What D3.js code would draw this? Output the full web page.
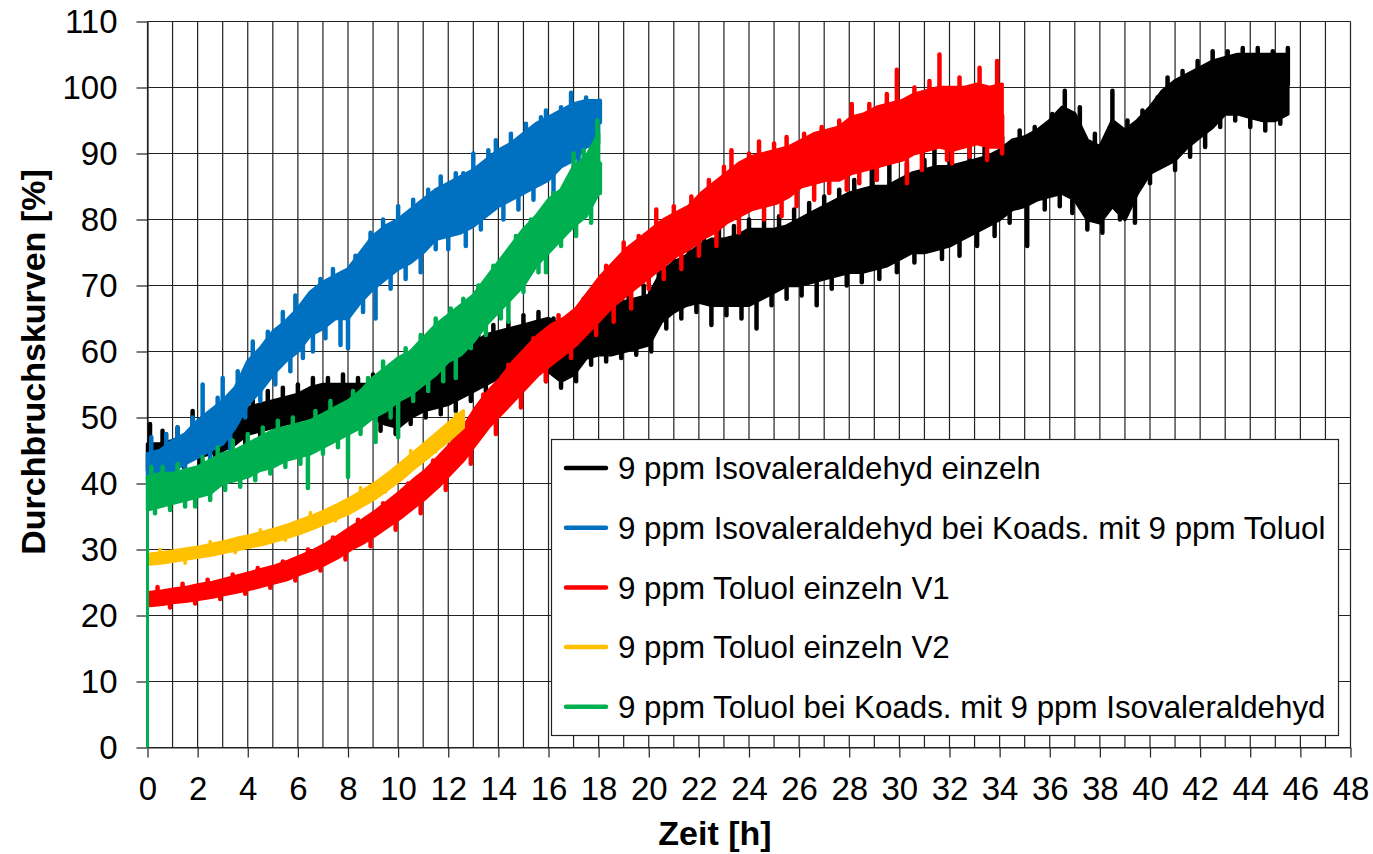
<!DOCTYPE html>
<html><head><meta charset="utf-8">
<script src="https://cdn.jsdelivr.net/npm/d3@7/dist/d3.min.js"></script>
<style>
body{margin:0;background:#fff}
text{font-family:"Liberation Sans",Arial,sans-serif;fill:#000}
</style>
</head><body>
<svg id="chart" width="1373" height="854"></svg>
<script>
// ---------- data ----------
const xTicks = [0,2,4,6,8,10,12,14,16,18,20,22,24,26,28,30,32,34,36,38,40,42,44,46,48];
const yTicks = [0,10,20,30,40,50,60,70,80,90,100,110];
const xLabel = "Zeit [h]";
const yLabel = "Durchbruchskurven [%]";
const seriesNames = [
  "9 ppm Isovaleraldehyd einzeln",
  "9 ppm Isovaleraldehyd bei Koads. mit 9 ppm Toluol",
  "9 ppm Toluol einzeln V1",
  "9 ppm Toluol einzeln V2",
  "9 ppm Toluol bei Koads. mit 9 ppm Isovaleraldehyd"
];
const seriesColors = ["#000000","#0070C0","#FF0000","#FFC000","#00B050"];

// lower / upper edge of each noisy trace [%], sampled every 0.5 h from the start time
const stepH = 0.5;
const blackStart = 0;
const blackLo = [42,42.5,43,43.5,44,44.5,45,46,47.5,48,48.5,49,49.5,50,50.5,50.5,51,50.5,50,49,48.5,50,51,51.5,52,53,54,55,56,56.5,57,57.5,57,55.5,56.5,59,59.5,59.5,60,60.5,61,64.5,66,67,67.5,67,67,67,67,68,69,70,70,70.5,71,71.5,72,72,72.5,73,74,75,75,75.5,76,77,78,79,80,81.5,82,83,83.5,84,83,80,79.5,82,80,84,87,88,89,91,92.5,94,96,96,95.5,95,95,96];
const blackHi = [46,46,46.5,47,47.5,48.5,49.5,50.5,51.5,52,52.5,53,53.5,54.5,55,55,55,55,55,55.5,56,56.5,57,57.5,58.5,59.5,61,62.5,63,63.5,64,64.5,65,64,64.5,66,66,66.5,67.5,68,68.5,72,73.5,74.5,76,77,77,77.5,78.5,78.5,78.5,79,80,81,82,83,84,84.5,85,85,86,87,87.5,88,88,88.5,89,89.5,90.5,92,92.5,93.5,95,97,96,92,91,95,93.5,95,97,99.5,101,102,103,104,104.5,105,105,105,105,105];
// noise excursions [time h, tip %]
const blackSpikes = [[0.1,49],[0.35,41.5],[0.6,48],[0.9,41.8],[1.2,48.5],[1.45,42.5],[1.8,51],[2.1,43],[2.4,50],[2.7,43.5],[3.0,51.5],[3.3,44.5],[3.6,52.5],[3.9,46],[4.2,53],[4.5,46.5],[4.8,54],[5.1,47.5],[5.4,54.5],[5.7,48],[6.0,55],[6.3,48.5],[6.6,56],[6.9,49.5],[7.2,56],[7.5,49.5],[7.8,56.5],[8.1,50],[8.4,56],[8.7,49.5],[9.0,56.5],[9.3,48],[9.6,57],[9.9,47.5],[10.2,57.5],[10.5,49],[10.8,58],[11.1,50],[11.4,59],[11.7,50.5],[12.0,60],[12.3,51],[12.6,61],[12.9,52.5],[13.2,62.5],[13.5,54],[13.8,64],[14.1,55],[14.4,64.5],[14.7,55.5],[15.0,65.5],[15.3,56],[15.6,66],[15.9,55.5],[16.2,65],[16.5,54.5],[16.8,64.5],[17.1,55.5],[17.4,67],[17.7,58],[18.0,67],[18.3,58.5],[18.6,68],[18.9,59],[19.2,69],[19.5,59.5],[19.8,70],[20.1,60],[20.4,73],[20.7,63.5],[21.0,75],[21.3,65],[21.6,76],[21.9,66],[22.2,78],[22.5,64],[22.8,78.5],[23.1,65.5],[23.4,79],[23.7,65],[24.0,80],[24.3,63.5],[24.6,80],[24.9,67],[25.2,80.5],[25.5,68],[25.8,81.5],[26.1,68.5],[26.4,82.5],[26.7,67],[27.0,83.5],[27.3,69.5],[27.6,84.5],[27.9,70],[28.2,86],[28.5,70.5],[28.9,89],[29.2,71],[29.6,89],[29.9,72],[30.3,88.5],[30.6,73.5],[31.0,89],[31.4,90.5],[31.7,74],[32.0,90],[32.4,74.5],[32.8,91],[33.1,76],[33.4,91],[33.8,77.5],[34.1,92.5],[34.4,79.5],[34.8,93.5],[35.1,76],[35.4,94],[35.8,81.5],[36.1,96],[36.4,82],[36.6,99.5],[36.9,81],[37.2,97],[37.5,78.5],[37.8,93],[38.1,78],[38.5,99.5],[38.8,80],[39.1,95],[39.4,79.5],[39.7,96.5],[40.0,85.5],[40.3,98.5],[40.7,101.5],[41.0,87.5],[41.3,102.5],[41.6,89.5],[41.9,104],[42.2,91],[42.5,105.5],[42.8,94],[43.1,105.5],[43.4,95],[43.7,106],[44.0,94],[44.3,106],[44.6,93.5],[44.9,105.5],[45.2,94.5],[45.5,106]];

const blueStart = 0;
const blueLo = [40.5,41,42,43,44,45,46,48.5,52,54,56.5,58.5,60,62.5,63.5,65,65,67.5,69.5,71,72.5,73.5,75,77,77.5,78,79,80.5,82,83,84,85,86,88,89,91,91.5];
const blueHi = [44.5,45,46.5,47.5,49.5,51,52.5,54.5,58.5,60.5,63,64.5,66.5,69,70.5,71.5,72.5,75,77.5,79,80,81.5,83,84.5,85.5,86.5,87.5,89,90.5,91.5,93,94.5,95.5,96.5,97.5,98,98];
const blueSpikes = [[0.15,47],[0.45,39.5],[0.75,47.5],[1.05,40.5],[1.2,48.5],[1.5,41.5],[1.8,50],[2.2,55],[2.5,43.5],[2.8,53],[3.0,56],[3.3,45],[3.6,57],[3.9,50],[4.2,61.5],[4.5,52.5],[4.8,63],[5.1,55],[5.4,66],[5.7,57],[5.9,68.5],[6.2,59],[6.6,60],[6.9,71],[7.1,62],[7.4,72.5],[7.7,61],[8.0,60.5],[8.3,74.5],[8.6,66],[8.9,78],[9.1,65],[9.4,80],[9.7,69.5],[10.0,82],[10.3,71],[10.6,83],[10.9,72],[11.2,84.5],[11.5,75.5],[11.7,86.5],[12.0,75.5],[12.3,87],[12.6,87],[12.7,76],[13.0,90],[13.3,78.5],[13.6,90.5],[13.9,92],[14.2,80],[14.5,93],[14.8,81.5],[15.1,94.5],[15.4,83],[15.7,95.5],[15.9,96.5],[16.2,82],[16.5,97],[16.9,99.2],[17.2,87],[17.5,98.5],[17.8,89.5],[18.05,98]];

const redStart = 0.1;
const redLo = [21.5,21.7,22,22.2,22.5,22.8,23.2,23.6,24,24.5,25,25.5,26.3,27,27.8,28.8,30,31,32.2,33.5,34.8,36.3,37.8,39.5,41.5,43.5,46,48.5,50.5,52.5,54.5,56.5,58,59.5,61,63,65,67,68.5,70,71.5,73,74.5,75.5,77,78,79.5,80.5,81.5,82,82.5,83.5,85,85.5,86,86,87,87.5,88,88.5,89,90,90.5,91,90.5,91,91.5,91,91];
const redHi = [23.5,23.7,24,24.3,24.7,25,25.5,26,26.5,27,27.5,28.2,29,29.8,30.8,32,33.3,34.5,35.8,37.3,38.8,40.5,42,44,46,48.5,51.5,54,56,58.5,60.5,62.5,64,65,66.5,69,71.5,73.5,75.5,77,78.5,80,81,82,84,85.5,87,88.5,89.5,90,90.5,91,92,93,93.5,94,95.5,96,97,97.5,98,99,99.5,100,100,100,100.5,100,100.5];
const redSpikes = [[0.4,24.3],[0.9,21.2],[1.4,24.8],[1.9,21.8],[2.4,25.4],[2.9,22.5],[3.4,26.2],[3.9,23.3],[4.4,27.2],[4.9,24.2],[5.4,28.2],[5.9,25.3],[6.4,30],[6.9,26.8],[7.4,31.8],[7.9,28.5],[8.4,34.5],[8.9,30.5],[9.4,37],[9.9,33],[10.4,40],[10.9,35.5],[11.4,43.5],[11.9,39],[12.4,48],[12.9,43],[13.4,53.5],[13.9,47.5],[14.4,58],[14.9,51.5],[15.4,62],[15.9,55.5],[16.4,65.5],[16.9,59],[17.4,68],[17.9,62.5],[18.3,73],[18.6,64.5],[19.0,76.5],[19.3,66.5],[19.6,77.5],[20.0,69.5],[20.3,81.5],[20.6,71],[21.0,82],[21.3,72.5],[21.7,83.5],[22.0,74.5],[22.4,86],[22.7,76],[23.0,88],[23.3,90.5],[23.6,78],[24.0,90],[24.4,91.8],[24.6,80],[25.0,91.5],[25.3,80.5],[25.5,92.5],[25.9,82],[26.2,93],[26.6,83],[26.9,94],[27.2,84],[27.6,95],[27.9,84.5],[28.1,97.5],[28.4,85.5],[28.8,97.5],[29.1,86],[29.5,99],[29.9,102.7],[30.3,85.5],[30.6,100],[30.9,87.5],[31.2,101],[31.6,105],[31.9,89],[32.1,88.5],[32.4,101.5],[32.8,89.5],[33.2,103],[33.5,89],[33.9,104],[34.1,90]];

const yellowStart = 0.1;
const yellowLo = [27.8,28,28.3,28.6,28.9,29.2,29.6,30,30.4,30.8,31.3,31.9,32.5,33.2,34,34.8,35.6,36.7,37.8,39.2,40.6,42.2,43.7,45.3,46.8,48.5];
const yellowHi = [29.3,29.5,29.8,30.1,30.4,30.8,31.2,31.7,32.1,32.6,33.1,33.7,34.4,35.1,35.9,36.8,37.8,38.9,40.1,41.5,43,44.6,46.2,47.8,49.4,51];
const yellowSpikes = [[0.5,30],[1.5,27.9],[2.5,31.2],[3.5,29.5],[4.5,33],[5.5,31.4],[6.5,35.6],[7.5,34.3],[8.5,39.4],[9.5,38.7],[10.5,45],[11.5,44.8],[12.3,50.5]];

const greenStart = 0;
const greenLo = [36,36.5,37,37.5,38,38.5,40,40.5,41,42,42.5,43.5,44,44.5,45.5,46.5,47.5,48.5,50,51,52.5,53.5,55,56.5,58.5,59.5,61.5,64,66,68,70,73,75,77,79,80.5,84];
const greenHi = [41,41.5,41.5,42,42.5,43.5,44.5,45,46,47,48,48.5,49,49.5,50.5,51.5,52.5,54,56,57.5,59,60,62,64,65.5,67,68.5,71,73.5,76,78.5,80.5,83,84.5,88,89.5,93];
const greenSpikes = [[0.15,42.5],[0.3,35.5],[0.6,42.5],[0.9,36],[1.2,43],[1.5,36.5],[1.9,36.5],[2.2,44],[2.5,37.5],[2.8,45.5],[3.1,39],[3.4,46.5],[3.7,39.5],[4.0,47.5],[4.3,40.5],[4.6,48.5],[4.9,41.5],[5.2,49.5],[5.5,42.5],[5.8,50],[6.1,43],[6.4,39.3],[6.7,51],[7.0,44.5],[7.3,52.5],[7.6,45.5],[8.0,41],[8.2,54],[8.5,47.5],[8.8,56],[9.1,46.3],[9.4,58.5],[9.7,50],[10.0,47],[10.3,60.5],[10.6,52.5],[10.9,62.5],[11.2,54],[11.5,65],[11.8,55.5],[12.1,66.5],[12.3,56],[12.6,68],[12.9,60.5],[13.2,70],[13.5,62.5],[13.8,73],[14.1,65],[14.4,64.5],[14.7,77.5],[15.0,69],[15.3,80],[15.6,72],[15.9,72],[16.2,84],[16.5,76],[16.7,78.5],[17.0,90],[17.1,77.5],[17.4,90.5],[17.7,79.5],[17.95,95],[18.05,84]];
// initial jump of the green trace at t = 0 [time h, from %, to %]
const greenRise = [0, 0, 40];

// ---------- layout ----------
const svg = d3.select("#chart");
const x = d3.scaleLinear().domain([0,48]).range([147.5,1350.5]);
const y = d3.scaleLinear().domain([0,110]).range([747.5,21.5]);

// grid
const grid = svg.append("g").attr("stroke","#222").attr("stroke-width",1.2);
grid.selectAll("line.v").data(d3.range(0,49,1)).join("line")
  .attr("x1",d=>x(d)).attr("x2",d=>x(d)).attr("y1",y(0)).attr("y2",y(110));
grid.selectAll("line.h").data(yTicks).join("line")
  .attr("x1",x(0)).attr("x2",x(48)).attr("y1",d=>y(d)).attr("y2",d=>y(d));

// axes
const yAxis = svg.append("g").attr("transform",`translate(${x(0)},0)`)
  .call(d3.axisLeft(y).tickValues(yTicks).tickSize(11).tickSizeOuter(0).tickPadding(19));
const xAxis = svg.append("g").attr("transform",`translate(0,${y(0)})`)
  .call(d3.axisBottom(x).tickValues(xTicks).tickSize(10).tickSizeOuter(0).tickPadding(19));
[yAxis,xAxis].forEach(a=>{
  a.selectAll("text").attr("font-size",33).attr("font-family","'Liberation Sans',Arial,sans-serif").attr("fill","#000");
  a.selectAll("line").attr("stroke","#222").attr("stroke-width",1.2);
  a.select(".domain").attr("stroke","#222").attr("stroke-width",1.2);
});

// series
const series = [
  {start:blackStart, lo:blackLo, hi:blackHi, spikes:blackSpikes},
  {start:blueStart, lo:blueLo, hi:blueHi, spikes:blueSpikes},
  {start:redStart, lo:redLo, hi:redHi, spikes:redSpikes},
  {start:yellowStart, lo:yellowLo, hi:yellowHi, spikes:yellowSpikes},
  {start:greenStart, lo:greenLo, hi:greenHi, spikes:greenSpikes, rise:greenRise}
];
const area = d3.area().x(d=>x(d.t)).y0(d=>y(d.lo)).y1(d=>y(d.hi));
const plot = svg.append("g");
series.forEach((s,k)=>{
  const col = seriesColors[k];
  const pts = s.lo.map((l,i)=>({t:s.start+i*stepH, lo:l, hi:s.hi[i]}));
  const g = plot.append("g");
  if (s.rise) {
    g.append("line").attr("x1",x(s.rise[0])).attr("x2",x(s.rise[0]))
      .attr("y1",y(s.rise[1])).attr("y2",y(s.rise[2]))
      .attr("stroke",col).attr("stroke-width",3);
  }
  g.append("path").datum(pts).attr("d",area)
    .attr("fill",col).attr("stroke",col).attr("stroke-width",3.5).attr("stroke-linejoin","round");
  // each excursion starts from the middle of the nearest sampled band
  g.selectAll("line.sp").data(s.spikes).join("line").attr("class","sp")
    .attr("x1",d=>x(d[0])).attr("x2",d=>x(d[0]))
    .attr("y1",d=>{
      const i = Math.max(0, Math.min(s.lo.length-1, Math.round((d[0]-s.start)/stepH)));
      return y((s.lo[i]+s.hi[i])/2);
    })
    .attr("y2",d=>y(d[1]))
    .attr("stroke",col).attr("stroke-width",k===3?3.5:4.5).attr("stroke-linecap","round");
});

// legend
const lg = svg.append("g");
lg.append("rect").attr("x",551.5).attr("y",439.5).attr("width",787).attr("height",296)
  .attr("fill","#fff").attr("stroke","#222").attr("stroke-width",1.2);
seriesNames.forEach((n,i)=>{
  const yy = 468 + i*59.7;
  lg.append("line").attr("x1",566).attr("x2",606).attr("y1",yy).attr("y2",yy)
    .attr("stroke",seriesColors[i]).attr("stroke-width",4.5).attr("stroke-linecap","round");
  lg.append("text").attr("x",618).attr("y",yy).attr("dy","0.36em").attr("font-size",31.3).text(n);
});

// axis titles
svg.append("text").attr("x",715).attr("y",845).attr("text-anchor","middle")
  .attr("font-size",34).attr("font-weight","bold").text(xLabel);
svg.append("text").attr("transform","translate(45,362) rotate(-90)").attr("text-anchor","middle")
  .attr("font-size",34).attr("font-weight","bold").text(yLabel);
</script>
</body></html>
